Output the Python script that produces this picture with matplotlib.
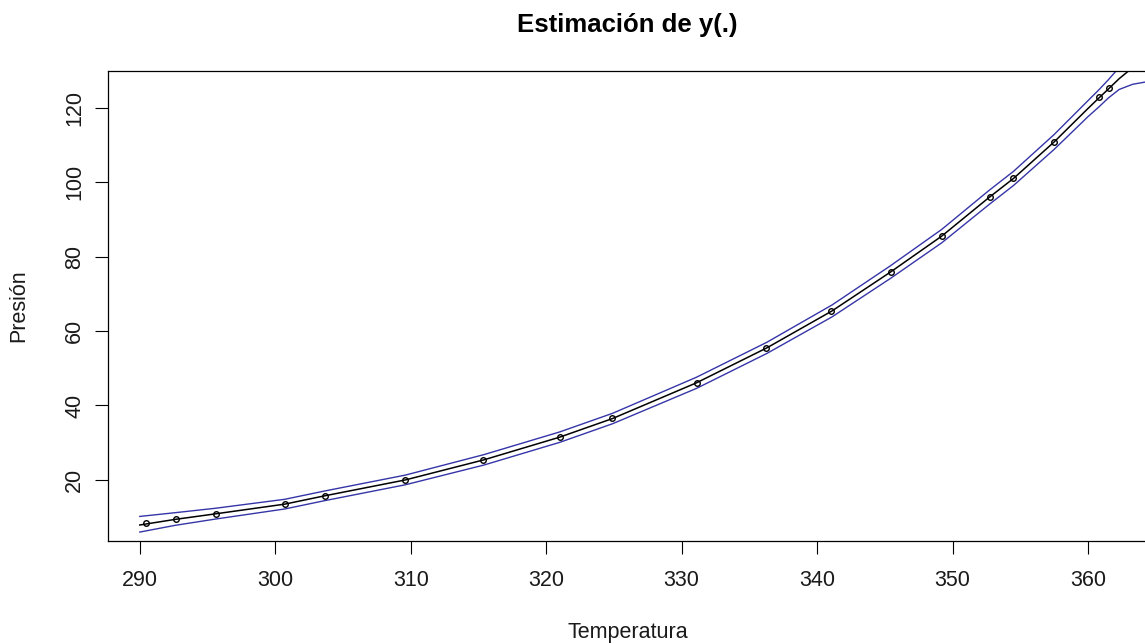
import matplotlib.pyplot as plt
import numpy as np

plt.rcParams['font.family'] = ['Liberation Sans', 'DejaVu Sans']

# observed points
temp = [290.49, 292.65, 295.59, 300.71, 303.64, 309.56, 315.37, 321.0, 324.87,
        331.10, 336.25, 341.05, 345.44, 349.24, 352.74, 354.46, 357.48, 360.83, 361.52]
pres = [8.4, 9.5, 10.9, 13.5, 15.75, 20.0, 25.4, 31.5, 36.6,
        46.1, 55.5, 65.4, 75.9, 85.5, 96.0, 101.0, 110.8, 122.9, 125.2]

# estimated curve and band
grid = [290.0, 292.6, 295.6, 300.7, 303.6, 309.6, 315.4, 321.0, 324.9, 331.1, 336.3,
        341.1, 345.4, 349.2, 352.7, 354.5, 357.5, 360.0, 360.8, 361.5, 362.3, 363.3, 364.4]
fit = [7.9, 9.4, 10.9, 13.5, 15.7, 20.0, 25.4, 31.5, 36.5, 46.1, 55.5,
       65.4, 75.8, 85.5, 95.9, 101.0, 110.8, 119.8, 122.6, 125.0, 127.8, 130.8, 134.0]
upper = [10.2, 11.2, 12.4, 14.8, 17.0, 21.3, 26.8, 32.9, 37.9, 47.6, 57.0,
         67.0, 77.5, 87.3, 97.8, 102.9, 112.8, 121.9, 124.8, 127.5, 130.8, 134.3, 138.0]
lower = [6.0, 7.8, 9.5, 12.2, 14.4, 18.7, 24.0, 30.1, 35.1, 44.6, 54.0,
         63.8, 74.1, 83.7, 94.0, 99.1, 108.8, 117.6, 120.2, 122.6, 124.9, 126.3, 127.0]

fig = plt.figure(figsize=(11.45, 6.44), dpi=100)
ax = fig.add_axes([0.0943, 0.1607, 0.9075, 0.7291])

ax.plot(grid, upper, color='#3535a8', lw=1.0)
ax.plot(grid, lower, color='#3535a8', lw=1.0)
ax.plot(grid, fit, color='black', lw=1.1)
ax.plot(temp, pres, 'o', mfc='none', mec='black', ms=4, mew=1.0)

ax.set_xlim(287.65, 364.36)
ax.set_ylim(3.73, 129.87)
ax.set_xticks(np.arange(290, 361, 10))
ax.set_yticks(np.arange(20, 121, 20))
ax.tick_params(direction='out', length=9.4, width=0.8, labelsize=15.5,
               labelcolor='#1a1a1a')
ax.tick_params(axis='x', pad=12)
ax.tick_params(axis='y', pad=7)
plt.setp(ax.get_yticklabels(), rotation=90, va='center')
for s in ax.spines.values():
    s.set_linewidth(0.9)

ax.set_xlabel('Temperatura', fontsize=15.5, labelpad=22, color='#1a1a1a')
ax.set_ylabel('Presión', fontsize=15.5, labelpad=25, color='#1a1a1a')
ax.set_title('Estimación de y(.)', fontsize=18.5, fontweight='bold', pad=28)

plt.savefig('out.png', dpi=100)
